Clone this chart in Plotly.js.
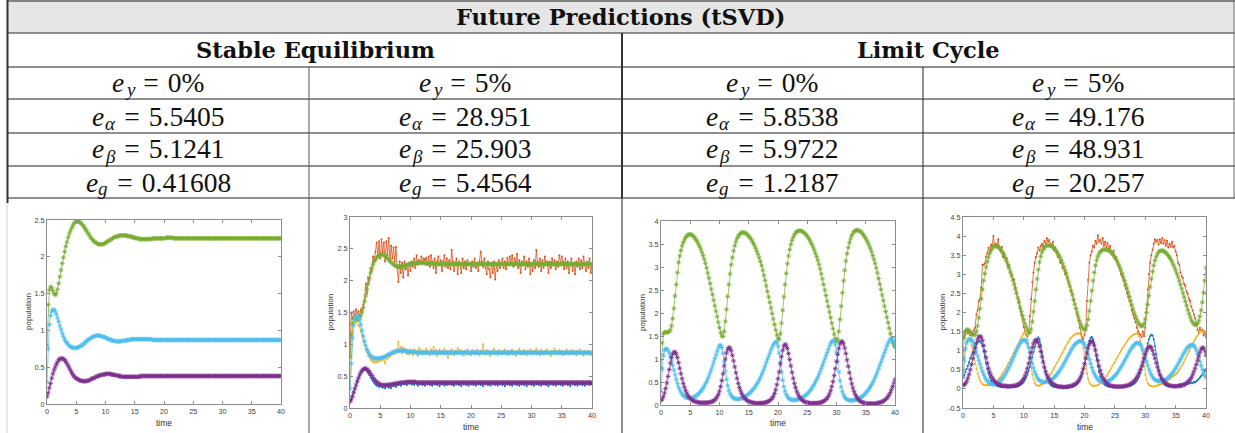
<!DOCTYPE html>
<html>
<head>
<meta charset="utf-8">
<script src="https://cdn.plot.ly/plotly-3.0.1.min.js"></script>
<style>
  html, body { margin: 0; padding: 0; background: #ffffff; }
  #fig { width: 1235px; height: 433px; }
</style>
</head>
<body>
<div id="fig"></div>
<script>
// ---------- shared time grid ----------
const time = [
  0,0.2,0.4,0.6,0.8,1,1.2,1.4,1.6,1.8,
  2,2.2,2.4,2.6,2.8,3,3.2,3.4,3.6,3.8,
  4,4.2,4.4,4.6,4.8,5,5.2,5.4,5.6,5.8,
  6,6.2,6.4,6.6,6.8,7,7.2,7.4,7.6,7.8,
  8,8.2,8.4,8.6,8.8,9,9.2,9.4,9.6,9.8,
  10,10.2,10.4,10.6,10.8,11,11.2,11.4,11.6,11.8,
  12,12.2,12.4,12.6,12.8,13,13.2,13.4,13.6,13.8,
  14,14.2,14.4,14.6,14.8,15,15.2,15.4,15.6,15.8,
  16,16.2,16.4,16.6,16.8,17,17.2,17.4,17.6,17.8,
  18,18.2,18.4,18.6,18.8,19,19.2,19.4,19.6,19.8,
  20,20.2,20.4,20.6,20.8,21,21.2,21.4,21.6,21.8,
  22,22.2,22.4,22.6,22.8,23,23.2,23.4,23.6,23.8,
  24,24.2,24.4,24.6,24.8,25,25.2,25.4,25.6,25.8,
  26,26.2,26.4,26.6,26.8,27,27.2,27.4,27.6,27.8,
  28,28.2,28.4,28.6,28.8,29,29.2,29.4,29.6,29.8,
  30,30.2,30.4,30.6,30.8,31,31.2,31.4,31.6,31.8,
  32,32.2,32.4,32.6,32.8,33,33.2,33.4,33.6,33.8,
  34,34.2,34.4,34.6,34.8,35,35.2,35.4,35.6,35.8,
  36,36.2,36.4,36.6,36.8,37,37.2,37.4,37.6,37.8,
  38,38.2,38.4,38.6,38.8,39,39.2,39.4,39.6,39.8,
  40
];

// ---------- table text ----------
const tableTitle = 'Future Predictions (tSVD)';
const regimes = ['Stable Equilibrium', 'Limit Cycle'];
const noiseLevels = ['0%', '5%', '0%', '5%'];
const errAlpha = ['5.5405', '28.951', '5.8538', '49.176'];
const errBeta = ['5.1241', '25.903', '5.9722', '48.931'];
const errG = ['0.41608', '5.4564', '1.2187', '20.257'];
const errSymbols = ['y', 'α', 'β', 'g'];

// ---------- axis ticks ----------
const timeTicks = [0, 5, 10, 15, 20, 25, 30, 35, 40];
const timeTickText = ['0', '5', '10', '15', '20', '25', '30', '35', '40'];
const popTicks1 = [0, 0.5, 1, 1.5, 2, 2.5];
const popTickText1 = ['0', '0.5', '1', '1.5', '2', '2.5'];
const popTicks2 = [0, 0.5, 1, 1.5, 2, 2.5, 3];
const popTickText2 = ['0', '0.5', '1', '1.5', '2', '2.5', '3'];
const popTicks3 = [0, 0.5, 1, 1.5, 2, 2.5, 3, 3.5, 4];
const popTickText3 = ['0', '0.5', '1', '1.5', '2', '2.5', '3', '3.5', '4'];
const popTicks4 = [-0.5, 0, 0.5, 1, 1.5, 2, 2.5, 3, 3.5, 4, 4.5];
const popTickText4 = ['-0.5', '0', '0.5', '1', '1.5', '2', '2.5', '3', '3.5', '4', '4.5'];

// ---------- stable equilibrium, e_y = 0% (predictions) ----------
const seCleanPredA = [
  0.8,1.35,1.55,1.59,1.58,1.54,1.5,1.48,1.5,1.56,
  1.64,1.73,1.82,1.91,1.99,2.07,2.14,2.2,2.26,2.31,
  2.35,2.39,2.42,2.45,2.47,2.48,2.48,2.48,2.47,2.46,
  2.44,2.42,2.4,2.37,2.35,2.32,2.3,2.27,2.25,2.23,
  2.21,2.2,2.19,2.18,2.17,2.17,2.17,2.17,2.17,2.18,
  2.19,2.2,2.21,2.22,2.23,2.24,2.25,2.26,2.27,2.27,
  2.28,2.28,2.29,2.29,2.29,2.29,2.29,2.29,2.29,2.28,
  2.28,2.28,2.27,2.27,2.26,2.26,2.25,2.25,2.25,2.24,
  2.24,2.24,2.24,2.24,2.24,2.24,2.24,2.24,2.24,2.24,
  2.25,2.25,2.25,2.25,2.25,2.25,2.25,2.25,2.25,2.25,
  2.25,2.25,2.26,2.26,2.26,2.26,2.26,2.26,2.25,2.25,
  2.25,2.25,2.25,2.25,2.25,2.25,2.25,2.25,2.25,2.25,
  2.25,2.25,2.25,2.25,2.25,2.25,2.25,2.25,2.25,2.25,
  2.25,2.25,2.25,2.25,2.25,2.25,2.25,2.25,2.25,2.25,
  2.25,2.25,2.25,2.25,2.25,2.25,2.25,2.25,2.25,2.25,
  2.25,2.25,2.25,2.25,2.25,2.25,2.25,2.25,2.25,2.25,
  2.25,2.25,2.25,2.25,2.25,2.25,2.25,2.25,2.25,2.25,
  2.25,2.25,2.25,2.25,2.25,2.25,2.25,2.25,2.25,2.25,
  2.25,2.25,2.25,2.25,2.25,2.25,2.25,2.25,2.25,2.25,
  2.25,2.25,2.25,2.25,2.25,2.25,2.25,2.25,2.25,2.25,
  2.25
];
const seCleanPredB = [
  0.3,0.75,1.08,1.2,1.26,1.28,1.28,1.26,1.22,1.17,
  1.12,1.06,1.01,0.96,0.92,0.88,0.85,0.83,0.81,0.79,
  0.78,0.77,0.77,0.76,0.76,0.76,0.77,0.77,0.78,0.79,
  0.8,0.81,0.83,0.84,0.86,0.87,0.88,0.89,0.9,0.91,
  0.92,0.92,0.93,0.93,0.93,0.93,0.92,0.92,0.91,0.91,
  0.9,0.89,0.89,0.88,0.87,0.87,0.86,0.86,0.86,0.85,
  0.85,0.85,0.85,0.85,0.86,0.86,0.86,0.86,0.87,0.87,
  0.87,0.87,0.88,0.88,0.88,0.88,0.88,0.88,0.88,0.88,
  0.88,0.88,0.88,0.88,0.88,0.88,0.88,0.88,0.88,0.88,
  0.87,0.87,0.87,0.87,0.87,0.87,0.87,0.87,0.87,0.87,
  0.87,0.87,0.87,0.87,0.87,0.87,0.87,0.87,0.87,0.87,
  0.87,0.87,0.87,0.87,0.87,0.87,0.87,0.87,0.87,0.87,
  0.87,0.87,0.87,0.87,0.87,0.87,0.87,0.87,0.87,0.87,
  0.87,0.87,0.87,0.87,0.87,0.87,0.87,0.87,0.87,0.87,
  0.87,0.87,0.87,0.87,0.87,0.87,0.87,0.87,0.87,0.87,
  0.87,0.87,0.87,0.87,0.87,0.87,0.87,0.87,0.87,0.87,
  0.87,0.87,0.87,0.87,0.87,0.87,0.87,0.87,0.87,0.87,
  0.87,0.87,0.87,0.87,0.87,0.87,0.87,0.87,0.87,0.87,
  0.87,0.87,0.87,0.87,0.87,0.87,0.87,0.87,0.87,0.87,
  0.87,0.87,0.87,0.87,0.87,0.87,0.87,0.87,0.87,0.87,
  0.87
];
const seCleanPredC = [
  0.1,0.15,0.22,0.28,0.35,0.41,0.46,0.5,0.54,0.57,
  0.6,0.61,0.62,0.62,0.61,0.6,0.58,0.55,0.52,0.49,
  0.46,0.43,0.4,0.38,0.36,0.35,0.34,0.33,0.32,0.32,
  0.31,0.31,0.31,0.31,0.31,0.32,0.32,0.33,0.34,0.35,
  0.35,0.36,0.37,0.38,0.38,0.39,0.39,0.4,0.4,0.4,
  0.41,0.41,0.41,0.41,0.41,0.4,0.4,0.4,0.39,0.39,
  0.39,0.38,0.38,0.38,0.37,0.37,0.37,0.37,0.37,0.37,
  0.37,0.37,0.37,0.37,0.37,0.37,0.37,0.37,0.37,0.37,
  0.38,0.38,0.38,0.38,0.38,0.38,0.38,0.38,0.38,0.38,
  0.38,0.38,0.38,0.38,0.38,0.38,0.38,0.38,0.38,0.38,
  0.38,0.38,0.38,0.38,0.38,0.38,0.38,0.38,0.38,0.38,
  0.38,0.38,0.38,0.38,0.38,0.38,0.38,0.38,0.38,0.38,
  0.38,0.38,0.38,0.38,0.38,0.38,0.38,0.38,0.38,0.38,
  0.38,0.38,0.38,0.38,0.38,0.38,0.38,0.38,0.38,0.38,
  0.38,0.38,0.38,0.38,0.38,0.38,0.38,0.38,0.38,0.38,
  0.38,0.38,0.38,0.38,0.38,0.38,0.38,0.38,0.38,0.38,
  0.38,0.38,0.38,0.38,0.38,0.38,0.38,0.38,0.38,0.38,
  0.38,0.38,0.38,0.38,0.38,0.38,0.38,0.38,0.38,0.38,
  0.38,0.38,0.38,0.38,0.38,0.38,0.38,0.38,0.38,0.38,
  0.38,0.38,0.38,0.38,0.38,0.38,0.38,0.38,0.38,0.38,
  0.38
];

// ---------- stable equilibrium, e_y = 5% (noisy data + predictions) ----------
const seNoisyDataA = [
  0.8,1.5,1.4,1.52,1.45,1.55,1.48,1.52,1.45,1.55,
  1.5,1.62,1.7,1.95,1.8,2.05,2.0,2.2,2.15,2.38,
  2.3,2.45,2.6,2.38,2.62,2.35,2.65,2.45,2.6,2.3,
  2.62,2.4,2.67,2.3,2.55,2.35,2.52,2.3,2.53,2.2,
  1.98,2.3,2.12,2.28,2.05,2.3,2.18,2.25,2.08,2.28,
  2.15,2.3,2.22,2.35,2.2,2.4,2.25,2.32,2.28,2.38,
  2.3,2.35,2.32,2.36,2.25,2.38,2.22,2.4,2.3,2.2,
  2.35,2.12,2.3,2.38,2.25,2.32,2.15,2.3,2.4,2.22,
  2.35,2.2,2.32,2.18,2.48,2.3,2.15,2.28,2.35,2.1,
  2.3,2.25,2.12,2.35,2.2,2.3,2.18,2.32,2.25,2.28,
  2.15,2.3,2.22,2.35,2.2,2.28,2.15,2.3,2.46,2.3,
  2.22,2.35,2.2,2.1,2.3,2.18,2.05,2.28,2.12,2.3,
  2.02,2.25,2.15,2.32,2.2,2.28,2.35,2.2,2.3,2.18,
  2.36,2.25,2.38,2.28,2.4,2.22,2.35,2.3,2.42,2.2,
  2.32,2.12,2.3,2.25,2.38,2.18,2.3,2.22,2.35,2.1,
  2.28,2.15,2.32,2.2,2.48,2.3,2.22,2.35,2.15,2.32,
  2.2,2.38,2.25,2.3,2.12,2.3,2.2,2.35,2.25,2.32,
  2.18,2.3,2.22,2.4,2.28,2.38,2.3,2.18,2.35,2.2,
  2.3,2.12,2.25,2.35,2.15,2.28,2.1,2.3,2.22,2.35,
  2.18,2.32,2.2,2.38,2.25,2.15,2.3,2.2,2.35,2.12,
  2.22
];
const seNoisyDataB = [
  0.3,0.85,1.2,1.32,1.36,1.34,1.38,1.3,1.28,1.2,
  1.15,1.05,1.0,0.92,0.88,0.82,0.8,0.76,0.75,0.72,
  0.74,0.71,0.73,0.72,0.76,0.74,0.78,0.75,0.78,0.7,
  0.8,0.77,0.83,0.8,0.86,0.84,0.88,0.85,0.92,0.88,
  1.04,0.9,0.96,0.86,0.95,0.88,0.93,0.85,0.9,0.84,
  0.92,0.88,0.83,0.92,0.86,0.9,0.82,0.94,0.87,0.91,
  0.84,0.9,0.86,0.93,0.85,0.89,0.83,0.92,0.86,0.96,
  0.87,0.91,0.82,0.88,0.92,0.85,0.9,0.86,0.93,0.84,
  0.89,0.79,0.9,0.85,0.92,0.88,0.83,0.9,0.86,0.94,
  0.87,0.91,0.84,0.89,0.82,0.9,0.87,0.92,0.85,0.88,
  0.83,0.91,0.86,0.9,0.84,0.92,0.87,0.83,0.9,0.86,
  1.0,0.88,0.84,0.91,0.85,0.89,0.82,0.9,0.86,0.93,
  0.85,0.88,0.83,0.91,0.87,0.84,0.9,0.86,0.92,0.85,
  0.89,0.83,0.9,0.86,0.92,0.84,0.88,0.82,0.9,0.87,
  0.93,0.85,0.89,0.84,0.91,0.87,0.83,0.9,0.86,0.92,
  0.88,0.84,0.9,0.86,0.93,0.85,0.89,0.83,0.91,0.87,
  0.84,0.9,0.86,0.92,0.85,0.88,0.82,0.9,0.87,0.93,
  0.85,0.89,0.84,0.91,0.86,0.9,0.83,0.88,0.85,0.92,
  0.87,0.84,0.9,0.86,0.91,0.85,0.89,0.83,0.9,0.86,
  0.92,0.85,0.88,0.82,0.9,0.87,0.84,0.9,0.86,0.83,
  0.85
];
const seNoisyDataC = [
  0.1,0.14,0.2,0.25,0.31,0.37,0.42,0.48,0.52,0.56,
  0.59,0.6,0.61,0.6,0.58,0.55,0.52,0.48,0.45,0.42,
  0.39,0.37,0.35,0.36,0.33,0.35,0.34,0.32,0.35,0.31,
  0.34,0.36,0.32,0.35,0.31,0.36,0.34,0.37,0.33,0.37,
  0.36,0.39,0.35,0.38,0.4,0.37,0.39,0.36,0.4,0.38,
  0.41,0.37,0.39,0.36,0.4,0.38,0.35,0.39,0.37,0.4,
  0.36,0.38,0.35,0.39,0.37,0.4,0.36,0.38,0.35,0.39,
  0.37,0.4,0.36,0.38,0.34,0.39,0.37,0.4,0.35,0.38,
  0.36,0.39,0.37,0.41,0.36,0.38,0.35,0.39,0.37,0.4,
  0.36,0.38,0.34,0.39,0.37,0.4,0.36,0.38,0.35,0.39,
  0.37,0.4,0.36,0.38,0.35,0.39,0.37,0.41,0.36,0.38,
  0.34,0.39,0.37,0.4,0.36,0.38,0.35,0.39,0.37,0.4,
  0.36,0.38,0.35,0.39,0.37,0.41,0.36,0.38,0.34,0.39,
  0.37,0.4,0.36,0.38,0.35,0.39,0.37,0.4,0.36,0.38,
  0.35,0.39,0.37,0.41,0.36,0.38,0.34,0.39,0.37,0.4,
  0.36,0.38,0.35,0.39,0.37,0.4,0.36,0.38,0.35,0.39,
  0.37,0.41,0.36,0.38,0.34,0.39,0.37,0.4,0.36,0.38,
  0.35,0.39,0.37,0.4,0.36,0.38,0.35,0.39,0.37,0.41,
  0.36,0.38,0.34,0.39,0.37,0.4,0.36,0.38,0.35,0.39,
  0.37,0.4,0.36,0.38,0.35,0.39,0.37,0.41,0.36,0.38,
  0.37
];
const seNoisyPredA = [
  0.8,1.15,1.33,1.4,1.41,1.4,1.39,1.39,1.41,1.45,
  1.51,1.58,1.67,1.76,1.86,1.95,2.04,2.12,2.19,2.25,
  2.3,2.33,2.36,2.38,2.4,2.41,2.41,2.41,2.4,2.39,
  2.37,2.35,2.33,2.31,2.29,2.27,2.26,2.24,2.23,2.23,
  2.22,2.22,2.22,2.22,2.23,2.23,2.24,2.25,2.25,2.26,
  2.26,2.27,2.27,2.27,2.27,2.28,2.28,2.28,2.28,2.28,
  2.28,2.28,2.27,2.27,2.27,2.27,2.27,2.27,2.27,2.26,
  2.26,2.26,2.26,2.26,2.26,2.26,2.26,2.26,2.26,2.26,
  2.26,2.26,2.26,2.26,2.26,2.26,2.26,2.26,2.26,2.26,
  2.26,2.26,2.26,2.26,2.26,2.26,2.26,2.26,2.26,2.26,
  2.26,2.26,2.26,2.26,2.26,2.26,2.26,2.26,2.26,2.26,
  2.26,2.26,2.26,2.26,2.26,2.26,2.26,2.26,2.26,2.26,
  2.26,2.26,2.26,2.26,2.26,2.26,2.26,2.26,2.26,2.26,
  2.26,2.26,2.26,2.26,2.26,2.26,2.26,2.26,2.26,2.26,
  2.26,2.26,2.26,2.26,2.26,2.26,2.26,2.26,2.26,2.26,
  2.26,2.26,2.26,2.26,2.26,2.26,2.26,2.26,2.26,2.26,
  2.26,2.26,2.26,2.26,2.26,2.26,2.26,2.26,2.26,2.26,
  2.26,2.26,2.26,2.26,2.26,2.26,2.26,2.26,2.26,2.26,
  2.26,2.26,2.26,2.26,2.26,2.26,2.26,2.26,2.26,2.26,
  2.26,2.26,2.26,2.26,2.26,2.26,2.26,2.26,2.26,2.26,
  2.26
];
const seNoisyPredB = [
  0.3,0.7,1.1,1.3,1.4,1.44,1.45,1.43,1.38,1.31,
  1.22,1.13,1.05,0.98,0.92,0.88,0.85,0.82,0.8,0.79,
  0.78,0.78,0.78,0.78,0.78,0.78,0.79,0.79,0.8,0.81,
  0.82,0.83,0.84,0.85,0.86,0.87,0.88,0.88,0.89,0.89,
  0.9,0.9,0.9,0.9,0.9,0.9,0.89,0.89,0.89,0.88,
  0.88,0.88,0.88,0.88,0.88,0.87,0.87,0.87,0.87,0.87,
  0.87,0.87,0.87,0.87,0.87,0.87,0.87,0.87,0.87,0.87,
  0.87,0.87,0.87,0.87,0.87,0.87,0.87,0.87,0.87,0.87,
  0.87,0.87,0.87,0.87,0.87,0.87,0.87,0.87,0.87,0.87,
  0.87,0.87,0.87,0.87,0.87,0.87,0.87,0.87,0.87,0.87,
  0.87,0.87,0.87,0.87,0.87,0.87,0.87,0.87,0.87,0.87,
  0.87,0.87,0.87,0.87,0.87,0.87,0.87,0.87,0.87,0.87,
  0.87,0.87,0.87,0.87,0.87,0.87,0.87,0.87,0.87,0.87,
  0.87,0.87,0.87,0.87,0.87,0.87,0.87,0.87,0.87,0.87,
  0.87,0.87,0.87,0.87,0.87,0.87,0.87,0.87,0.87,0.87,
  0.87,0.87,0.87,0.87,0.87,0.87,0.87,0.87,0.87,0.87,
  0.87,0.87,0.87,0.87,0.87,0.87,0.87,0.87,0.87,0.87,
  0.87,0.87,0.87,0.87,0.87,0.87,0.87,0.87,0.87,0.87,
  0.87,0.87,0.87,0.87,0.87,0.87,0.87,0.87,0.87,0.87,
  0.87,0.87,0.87,0.87,0.87,0.87,0.87,0.87,0.87,0.87,
  0.87
];
const seNoisyPredC = [
  0.1,0.13,0.18,0.24,0.3,0.36,0.42,0.47,0.52,0.56,
  0.59,0.61,0.62,0.62,0.61,0.59,0.57,0.54,0.51,0.48,
  0.45,0.43,0.41,0.39,0.38,0.37,0.36,0.36,0.36,0.36,
  0.36,0.36,0.36,0.37,0.37,0.37,0.38,0.38,0.38,0.39,
  0.39,0.39,0.4,0.4,0.4,0.4,0.4,0.41,0.41,0.41,
  0.41,0.41,0.41,0.41,0.41,0.4,0.4,0.4,0.4,0.4,
  0.4,0.4,0.4,0.4,0.4,0.4,0.4,0.4,0.4,0.4,
  0.4,0.4,0.4,0.4,0.4,0.4,0.4,0.4,0.4,0.4,
  0.4,0.4,0.4,0.4,0.4,0.4,0.4,0.4,0.4,0.4,
  0.4,0.4,0.4,0.4,0.4,0.4,0.4,0.4,0.4,0.4,
  0.4,0.4,0.4,0.4,0.4,0.4,0.4,0.4,0.4,0.4,
  0.4,0.4,0.4,0.4,0.4,0.4,0.4,0.4,0.4,0.4,
  0.4,0.4,0.4,0.4,0.4,0.4,0.4,0.4,0.4,0.4,
  0.4,0.4,0.4,0.4,0.4,0.4,0.4,0.4,0.4,0.4,
  0.4,0.4,0.4,0.4,0.4,0.4,0.4,0.4,0.4,0.4,
  0.4,0.4,0.4,0.4,0.4,0.4,0.4,0.4,0.4,0.4,
  0.4,0.4,0.4,0.4,0.4,0.4,0.4,0.4,0.4,0.4,
  0.4,0.4,0.4,0.4,0.4,0.4,0.4,0.4,0.4,0.4,
  0.4,0.4,0.4,0.4,0.4,0.4,0.4,0.4,0.4,0.4,
  0.4,0.4,0.4,0.4,0.4,0.4,0.4,0.4,0.4,0.4,
  0.4
];

// ---------- limit cycle, e_y = 0% (predictions) ----------
const lcCleanPredA = [
  0.8,1.35,1.55,1.58,1.58,1.58,1.58,1.6,1.63,1.72,
  1.88,2.1,2.37,2.62,2.88,3.1,3.24,3.36,3.46,3.53,
  3.59,3.64,3.67,3.7,3.71,3.71,3.7,3.68,3.66,3.63,
  3.59,3.55,3.5,3.45,3.39,3.32,3.25,3.17,3.08,2.98,
  2.87,2.76,2.64,2.52,2.4,2.28,2.16,2.04,1.92,1.8,
  1.68,1.57,1.5,1.49,1.6,1.82,2.08,2.36,2.62,2.85,
  3.05,3.21,3.35,3.46,3.55,3.62,3.67,3.71,3.73,3.75,
  3.75,3.75,3.74,3.72,3.7,3.67,3.64,3.6,3.56,3.51,
  3.46,3.4,3.34,3.27,3.2,3.12,3.03,2.93,2.82,2.71,
  2.59,2.47,2.35,2.23,2.11,1.99,1.87,1.75,1.63,1.52,
  1.44,1.43,1.55,1.78,2.06,2.35,2.62,2.86,3.07,3.24,
  3.38,3.49,3.58,3.65,3.7,3.74,3.77,3.78,3.79,3.79,
  3.78,3.77,3.75,3.73,3.7,3.67,3.63,3.59,3.54,3.49,
  3.43,3.37,3.3,3.23,3.15,3.06,2.96,2.85,2.74,2.62,
  2.5,2.38,2.26,2.14,2.02,1.9,1.78,1.66,1.54,1.44,
  1.38,1.42,1.6,1.86,2.15,2.44,2.7,2.93,3.13,3.29,
  3.42,3.53,3.61,3.68,3.73,3.77,3.79,3.8,3.8,3.79,
  3.78,3.76,3.73,3.7,3.66,3.62,3.57,3.52,3.46,3.4,
  3.33,3.25,3.17,3.08,2.98,2.87,2.75,2.63,2.51,2.39,
  2.27,2.15,2.03,1.91,1.79,1.67,1.55,1.44,1.36,1.3,
  1.26
];
const lcCleanPredB = [
  0.3,0.78,1.08,1.19,1.22,1.22,1.19,1.13,1.05,0.96,
  0.86,0.76,0.66,0.56,0.47,0.39,0.33,0.28,0.24,0.21,
  0.19,0.17,0.16,0.15,0.15,0.15,0.15,0.16,0.17,0.18,
  0.2,0.22,0.24,0.27,0.3,0.33,0.37,0.41,0.46,0.51,
  0.57,0.63,0.7,0.77,0.85,0.93,1.01,1.09,1.17,1.24,
  1.29,1.3,1.25,1.12,0.94,0.74,0.56,0.42,0.32,0.25,
  0.2,0.17,0.15,0.14,0.13,0.13,0.13,0.13,0.14,0.15,
  0.16,0.17,0.18,0.2,0.22,0.24,0.26,0.29,0.32,0.35,
  0.38,0.42,0.46,0.5,0.55,0.6,0.66,0.72,0.78,0.85,
  0.92,0.99,1.06,1.13,1.2,1.26,1.31,1.35,1.37,1.36,
  1.28,1.13,0.93,0.72,0.54,0.4,0.3,0.23,0.18,0.15,
  0.13,0.12,0.11,0.11,0.11,0.11,0.12,0.12,0.13,0.14,
  0.15,0.16,0.18,0.2,0.22,0.24,0.27,0.3,0.33,0.37,
  0.41,0.45,0.5,0.55,0.6,0.66,0.72,0.79,0.86,0.93,
  1.0,1.07,1.14,1.21,1.28,1.34,1.38,1.4,1.39,1.31,
  1.15,0.94,0.72,0.53,0.39,0.29,0.22,0.17,0.14,0.12,
  0.11,0.1,0.1,0.1,0.1,0.11,0.11,0.12,0.13,0.14,
  0.15,0.17,0.19,0.21,0.23,0.26,0.29,0.32,0.36,0.4,
  0.44,0.49,0.54,0.6,0.66,0.72,0.79,0.86,0.93,1.0,
  1.07,1.14,1.21,1.28,1.34,1.39,1.43,1.45,1.44,1.38,
  1.28
];
const lcCleanPredC = [
  0.1,0.13,0.18,0.26,0.36,0.48,0.62,0.77,0.91,1.03,
  1.11,1.15,1.15,1.11,1.03,0.92,0.8,0.68,0.57,0.47,
  0.39,0.32,0.26,0.21,0.17,0.14,0.12,0.1,0.09,0.08,
  0.07,0.06,0.06,0.05,0.05,0.05,0.05,0.05,0.05,0.05,
  0.05,0.06,0.06,0.07,0.08,0.09,0.11,0.14,0.18,0.23,
  0.3,0.4,0.53,0.68,0.85,1.0,1.13,1.21,1.25,1.24,
  1.18,1.08,0.96,0.83,0.7,0.58,0.47,0.38,0.31,0.25,
  0.2,0.16,0.13,0.11,0.09,0.08,0.07,0.06,0.05,0.05,
  0.04,0.04,0.04,0.04,0.04,0.04,0.04,0.04,0.05,0.05,
  0.06,0.07,0.08,0.1,0.12,0.15,0.19,0.25,0.33,0.44,
  0.57,0.72,0.89,1.05,1.19,1.28,1.32,1.3,1.23,1.12,
  0.99,0.85,0.71,0.58,0.47,0.38,0.3,0.24,0.19,0.15,
  0.12,0.1,0.08,0.07,0.06,0.05,0.05,0.04,0.04,0.04,
  0.04,0.04,0.04,0.04,0.04,0.05,0.05,0.06,0.07,0.08,
  0.1,0.12,0.15,0.19,0.24,0.31,0.4,0.51,0.64,0.79,
  0.95,1.1,1.23,1.33,1.38,1.38,1.33,1.24,1.12,0.98,
  0.84,0.7,0.57,0.46,0.37,0.29,0.23,0.18,0.14,0.11,
  0.09,0.07,0.06,0.05,0.04,0.04,0.03,0.03,0.03,0.03,
  0.03,0.03,0.03,0.03,0.04,0.04,0.05,0.05,0.06,0.07,
  0.09,0.1,0.12,0.15,0.18,0.22,0.27,0.33,0.4,0.48,
  0.56
];

// ---------- limit cycle, e_y = 5% (noisy data + predictions) ----------
const lcNoisyDataA = [
  1.3,1.5,1.42,1.55,1.45,1.52,1.4,1.5,1.42,1.55,
  1.6,1.95,2.05,2.3,2.35,2.65,3.25,3.25,3.28,3.45,
  3.55,3.7,3.6,3.78,3.72,4.0,3.75,3.8,3.7,3.92,
  3.65,3.6,3.72,3.45,3.55,3.38,3.42,3.2,3.25,3.05,
  3.0,2.85,2.88,2.65,2.55,2.4,2.32,2.1,1.95,1.85,
  1.62,1.5,1.42,1.38,1.45,1.9,2.35,2.8,3.05,3.3,
  3.45,3.55,3.7,3.62,3.75,3.8,3.72,3.88,3.82,3.95,
  3.85,3.9,3.8,3.75,3.85,3.62,3.7,3.55,3.45,3.5,
  3.3,3.35,3.15,3.2,3.0,3.05,2.85,2.75,2.7,2.55,
  2.5,2.3,2.22,2.1,1.95,1.8,1.6,1.45,1.35,1.3,
  1.42,1.55,2.3,2.85,3.3,3.5,3.6,3.75,3.7,3.88,
  3.8,4.02,3.85,3.9,3.8,3.95,3.75,3.85,3.7,3.82,
  3.65,3.75,3.6,3.55,3.62,3.4,3.45,3.3,3.22,3.15,
  3.0,2.95,2.85,2.7,2.62,2.5,2.4,2.3,2.2,2.05,
  1.95,1.85,1.75,1.6,1.5,1.45,1.42,1.35,1.5,1.38,
  1.6,2.1,2.6,3.0,3.3,3.5,3.65,3.8,3.92,3.85,
  3.9,3.78,3.92,3.82,3.95,3.8,3.9,3.75,3.88,3.7,
  3.8,3.72,3.85,3.7,3.75,3.6,3.5,3.3,3.25,3.05,
  2.95,2.9,2.75,2.7,2.55,2.5,2.35,2.3,2.15,2.05,
  1.95,1.85,1.7,1.55,1.45,1.6,1.5,1.55,1.4,1.45,
  1.35
];
const lcNoisyDataB = [
  0.3,0.85,1.1,1.25,1.28,1.3,1.25,1.12,0.98,0.82,
  0.66,0.52,0.4,0.3,0.22,0.17,0.13,0.11,0.1,0.09,
  0.1,0.09,0.11,0.1,0.12,0.14,0.15,0.18,0.2,0.24,
  0.28,0.32,0.37,0.42,0.47,0.53,0.58,0.65,0.7,0.77,
  0.82,0.9,0.95,1.02,1.08,1.15,1.2,1.28,1.35,1.42,
  1.47,1.5,1.45,1.3,1.08,0.82,0.58,0.38,0.25,0.16,
  0.11,0.09,0.08,0.09,0.1,0.12,0.14,0.17,0.2,0.24,
  0.28,0.33,0.38,0.43,0.49,0.55,0.6,0.67,0.72,0.79,
  0.84,0.91,0.96,1.03,1.08,1.14,1.2,1.25,1.3,1.34,
  1.38,1.4,1.42,1.45,1.44,1.46,1.45,1.4,1.28,1.08,
  0.85,0.6,0.4,0.26,0.17,0.12,0.09,0.08,0.07,0.08,
  0.09,0.1,0.12,0.14,0.17,0.2,0.24,0.28,0.33,0.38,
  0.43,0.48,0.54,0.6,0.65,0.71,0.77,0.83,0.88,0.94,
  0.99,1.05,1.1,1.15,1.2,1.25,1.29,1.33,1.36,1.39,
  1.41,1.43,1.44,1.45,1.43,1.38,1.26,1.06,0.82,0.58,
  0.38,0.24,0.15,0.1,0.08,0.07,0.06,0.06,0.07,0.08,
  0.09,0.1,0.11,0.12,0.13,0.15,0.17,0.19,0.21,0.23,
  0.26,0.29,0.31,0.33,0.36,0.38,0.41,0.45,0.5,0.55,
  0.6,0.66,0.72,0.78,0.85,0.92,0.98,1.05,1.12,1.18,
  1.24,1.3,1.35,1.4,1.45,1.5,1.52,1.5,1.53,1.5,
  1.48
];
const lcNoisyDataC = [
  0.3,0.35,0.45,0.52,0.6,0.7,0.8,0.88,0.95,1.05,
  1.12,1.18,1.22,1.25,1.24,1.2,1.12,1.0,0.85,0.68,
  0.52,0.4,0.3,0.22,0.17,0.13,0.11,0.09,0.08,0.07,
  0.06,0.05,0.06,0.04,0.05,0.04,0.05,0.03,0.05,0.04,
  0.05,0.04,0.06,0.05,0.07,0.06,0.08,0.1,0.12,0.15,
  0.19,0.24,0.3,0.38,0.47,0.58,0.7,0.83,0.97,1.1,
  1.22,1.31,1.35,1.3,1.15,0.95,0.74,0.55,0.4,0.29,
  0.21,0.15,0.11,0.08,0.07,0.05,0.06,0.04,0.05,0.03,
  0.05,0.04,0.06,0.03,0.05,0.04,0.02,0.05,0.04,0.06,
  0.05,0.07,0.08,0.1,0.13,0.17,0.22,0.29,0.38,0.5,
  0.64,0.8,0.97,1.13,1.26,1.34,1.36,1.3,1.17,0.99,
  0.79,0.6,0.44,0.32,0.23,0.17,0.13,0.1,0.08,0.07,
  0.06,0.05,0.07,0.05,0.06,0.04,0.06,0.05,0.07,0.05,
  0.06,0.04,0.06,0.05,0.07,0.06,0.08,0.07,0.09,0.1,
  0.12,0.14,0.17,0.21,0.26,0.32,0.4,0.5,0.62,0.76,
  0.9,1.05,1.19,1.3,1.38,1.42,1.4,1.3,1.12,0.9,
  0.68,0.5,0.36,0.26,0.19,0.14,0.11,0.09,0.08,0.07,
  0.08,0.06,0.07,0.05,0.07,0.06,0.08,0.1,0.12,0.1,
  0.13,0.11,0.14,0.12,0.15,0.13,0.16,0.14,0.17,0.15,
  0.18,0.17,0.2,0.22,0.26,0.3,0.34,0.38,0.42,0.47,
  0.52
];
const lcNoisyPredA = [
  0.8,1.35,1.5,1.55,1.55,1.52,1.48,1.45,1.42,1.41,
  1.43,1.5,1.65,1.86,2.1,2.36,2.6,2.83,3.02,3.19,
  3.33,3.45,3.55,3.62,3.68,3.72,3.74,3.75,3.74,3.72,
  3.69,3.65,3.6,3.54,3.48,3.41,3.33,3.25,3.16,3.06,
  2.96,2.85,2.74,2.62,2.5,2.38,2.26,2.14,2.03,1.92,
  1.81,1.71,1.62,1.54,1.49,1.47,1.56,1.76,2.02,2.3,
  2.6,2.88,3.12,3.32,3.47,3.58,3.65,3.7,3.73,3.75,
  3.76,3.76,3.75,3.73,3.71,3.68,3.64,3.6,3.55,3.49,
  3.43,3.36,3.28,3.2,3.11,3.01,2.91,2.8,2.69,2.58,
  2.46,2.34,2.22,2.1,1.99,1.88,1.78,1.69,1.62,1.57,
  1.55,1.57,1.66,1.82,2.04,2.3,2.57,2.83,3.05,3.23,
  3.37,3.47,3.54,3.59,3.62,3.64,3.65,3.65,3.65,3.64,
  3.62,3.6,3.57,3.53,3.49,3.44,3.39,3.33,3.26,3.19,
  3.11,3.02,2.93,2.84,2.74,2.64,2.53,2.42,2.31,2.2,
  2.09,1.99,1.9,1.82,1.75,1.7,1.66,1.64,1.65,1.71,
  1.83,2.0,2.21,2.44,2.67,2.88,3.07,3.23,3.36,3.46,
  3.53,3.58,3.61,3.62,3.62,3.61,3.59,3.56,3.53,3.49,
  3.44,3.39,3.33,3.26,3.19,3.11,3.02,2.93,2.83,2.73,
  2.62,2.51,2.4,2.29,2.18,2.07,1.97,1.88,1.8,1.74,
  1.7,1.68,1.68,1.71,1.78,1.9,2.06,2.27,2.52,2.83,
  3.17
];
const lcNoisyPredB = [
  0.3,0.75,1.05,1.2,1.27,1.3,1.31,1.29,1.24,1.16,
  1.07,0.97,0.86,0.75,0.65,0.55,0.46,0.38,0.31,0.25,
  0.21,0.17,0.15,0.13,0.12,0.12,0.12,0.13,0.14,0.16,
  0.18,0.21,0.25,0.29,0.34,0.39,0.45,0.51,0.57,0.64,
  0.71,0.78,0.85,0.93,1.0,1.07,1.13,1.19,1.24,1.27,
  1.28,1.28,1.25,1.18,1.08,0.95,0.81,0.67,0.55,0.45,
  0.37,0.3,0.25,0.22,0.2,0.19,0.18,0.18,0.18,0.19,
  0.2,0.21,0.23,0.25,0.27,0.3,0.33,0.37,0.41,0.45,
  0.5,0.55,0.6,0.66,0.72,0.78,0.84,0.9,0.96,1.02,
  1.07,1.12,1.16,1.19,1.22,1.24,1.25,1.25,1.24,1.21,
  1.16,1.08,0.99,0.88,0.77,0.66,0.56,0.47,0.4,0.34,
  0.29,0.25,0.22,0.2,0.19,0.18,0.18,0.18,0.19,0.2,
  0.21,0.23,0.25,0.28,0.31,0.34,0.38,0.42,0.47,0.52,
  0.57,0.62,0.68,0.74,0.8,0.86,0.92,0.98,1.03,1.08,
  1.12,1.16,1.19,1.2,1.2,1.19,1.16,1.1,1.02,0.93,
  0.83,0.72,0.62,0.52,0.44,0.37,0.31,0.27,0.24,0.22,
  0.21,0.2,0.2,0.2,0.21,0.22,0.23,0.25,0.27,0.3,
  0.33,0.36,0.4,0.44,0.49,0.54,0.59,0.65,0.71,0.77,
  0.83,0.89,0.95,1.0,1.05,1.09,1.12,1.14,1.15,1.15,
  1.13,1.09,1.02,0.93,0.83,0.72,0.61,0.51,0.42,0.35,
  0.3
];
const lcNoisyPredC = [
  0.1,0.11,0.14,0.2,0.28,0.38,0.5,0.64,0.79,0.94,
  1.08,1.2,1.3,1.36,1.38,1.35,1.27,1.14,0.98,0.82,
  0.67,0.54,0.44,0.36,0.29,0.24,0.2,0.17,0.14,0.12,
  0.11,0.1,0.09,0.08,0.08,0.08,0.07,0.07,0.07,0.07,
  0.07,0.08,0.08,0.09,0.1,0.11,0.13,0.15,0.18,0.22,
  0.27,0.34,0.43,0.54,0.67,0.81,0.95,1.08,1.18,1.25,
  1.28,1.27,1.21,1.11,0.98,0.84,0.7,0.57,0.46,0.37,
  0.3,0.24,0.19,0.16,0.13,0.11,0.09,0.08,0.07,0.06,
  0.06,0.05,0.05,0.05,0.05,0.05,0.06,0.06,0.07,0.08,
  0.09,0.1,0.12,0.14,0.17,0.21,0.26,0.33,0.42,0.53,
  0.66,0.8,0.94,1.07,1.17,1.23,1.25,1.22,1.14,1.02,
  0.88,0.74,0.6,0.48,0.38,0.3,0.24,0.19,0.15,0.13,
  0.11,0.09,0.08,0.07,0.07,0.06,0.06,0.06,0.06,0.06,
  0.06,0.06,0.07,0.07,0.08,0.09,0.1,0.11,0.13,0.15,
  0.18,0.21,0.25,0.3,0.36,0.43,0.51,0.6,0.7,0.8,
  0.9,0.99,1.06,1.1,1.11,1.08,1.01,0.91,0.8,0.68,
  0.57,0.47,0.38,0.31,0.25,0.21,0.17,0.14,0.12,0.1,
  0.09,0.08,0.08,0.07,0.07,0.07,0.07,0.07,0.08,0.08,
  0.09,0.1,0.11,0.13,0.15,0.18,0.21,0.25,0.3,0.37,
  0.45,0.54,0.64,0.75,0.86,0.96,1.04,1.08,1.07,1.0,
  0.88
];

// ---------- colours ----------
const colors = {
  dataA: '#D95319', dataB: '#EDB120', dataC: '#0072BD',
  predA: '#77AC30', predB: '#4DBEEE', predC: '#7E2F8E'
};

// ---------- page geometry (pixels) ----------
const W = 1235, H = 433;
const fx = v => v / W;
const fy = v => 1 - v / H;

// plot boxes: [left, right, top, bottom]
const boxes = [
  [47, 281, 220, 404],
  [350, 592, 217, 408],
  [661, 895, 221, 405],
  [963, 1206, 217, 408]
];
const yRanges = [[0, 2.5], [0, 3], [0, 4], [-0.5, 4.5]];
const yTickSets = [
  [popTicks1, popTickText1], [popTicks2, popTickText2],
  [popTicks3, popTickText3], [popTicks4, popTickText4]
];

// ---------- traces ----------
function ax(k) { return k === 1 ? '' : String(k); }
function dataTrace(y, color, k) {
  return {
    x: time, y: y, xaxis: 'x' + ax(k), yaxis: 'y' + ax(k),
    type: 'scatter', mode: 'lines+markers', hoverinfo: 'skip',
    line: { color: color, width: 0.8 },
    marker: { symbol: 'circle', size: 2, color: color }
  };
}
function predTrace(y, color, k) {
  return {
    x: time, y: y, xaxis: 'x' + ax(k), yaxis: 'y' + ax(k),
    type: 'scatter', mode: 'lines+markers', hoverinfo: 'skip',
    line: { color: color, width: 0.7 },
    marker: { symbol: 'asterisk-open', size: 4, color: color, line: { color: color, width: 0.8 } }
  };
}

const traces = [
  predTrace(seCleanPredA, colors.predA, 1),
  predTrace(seCleanPredB, colors.predB, 1),
  predTrace(seCleanPredC, colors.predC, 1),

  dataTrace(seNoisyDataA, colors.dataA, 2),
  dataTrace(seNoisyDataB, colors.dataB, 2),
  dataTrace(seNoisyDataC, colors.dataC, 2),
  predTrace(seNoisyPredA, colors.predA, 2),
  predTrace(seNoisyPredB, colors.predB, 2),
  predTrace(seNoisyPredC, colors.predC, 2),

  predTrace(lcCleanPredA, colors.predA, 3),
  predTrace(lcCleanPredB, colors.predB, 3),
  predTrace(lcCleanPredC, colors.predC, 3),

  dataTrace(lcNoisyDataA, colors.dataA, 4),
  dataTrace(lcNoisyDataB, colors.dataB, 4),
  dataTrace(lcNoisyDataC, colors.dataC, 4),
  predTrace(lcNoisyPredA, colors.predA, 4),
  predTrace(lcNoisyPredB, colors.predB, 4),
  predTrace(lcNoisyPredC, colors.predC, 4)
];

// ---------- layout ----------
const axisLine = '#8c8c8c';
const sansFamily = 'Liberation Sans, Arial, sans-serif';
const tickFont = { family: sansFamily, size: 7.2, color: '#3c3c3c' };

const layout = {
  width: W, height: H,
  margin: { l: 0, r: 0, t: 0, b: 0 },
  paper_bgcolor: '#ffffff', plot_bgcolor: '#ffffff',
  showlegend: false,
  shapes: [], annotations: []
};

boxes.forEach((b, i) => {
  const k = i + 1;
  layout['xaxis' + ax(k)] = {
    domain: [fx(b[0]), fx(b[1])], range: [0, 40], anchor: 'y' + ax(k),
    tickmode: 'array', tickvals: timeTicks, ticktext: timeTickText,
    ticks: 'inside', ticklen: 3, tickwidth: 1, tickcolor: axisLine,
    showline: true, linecolor: axisLine, linewidth: 1, mirror: 'ticks',
    showgrid: false, zeroline: false, tickfont: tickFont, fixedrange: true
  };
  layout['yaxis' + ax(k)] = {
    domain: [fy(b[3]), fy(b[2])], range: yRanges[i], anchor: 'x' + ax(k),
    tickmode: 'array', tickvals: yTickSets[i][0], ticktext: yTickSets[i][1],
    ticks: 'inside', ticklen: 3, tickwidth: 1, tickcolor: axisLine,
    showline: true, linecolor: axisLine, linewidth: 1, mirror: 'ticks',
    showgrid: false, zeroline: false, tickfont: tickFont, fixedrange: true
  };
});

// axis titles
const yTitleX = [28, 330, 642, 942];
const xTitleY = [423, 427, 423, 427];
boxes.forEach((b, i) => {
  layout.annotations.push({
    xref: 'paper', yref: 'paper', x: fx(yTitleX[i]), y: fy((b[2] + b[3]) / 2),
    text: 'population', textangle: -90, showarrow: false,
    xanchor: 'center', yanchor: 'middle',
    font: { family: sansFamily, size: 8, color: '#333333' }
  });
  layout.annotations.push({
    xref: 'paper', yref: 'paper', x: fx((b[0] + b[1]) / 2), y: fy(xTitleY[i]),
    text: 'time', showarrow: false, xanchor: 'center', yanchor: 'middle',
    font: { family: sansFamily, size: 8.5, color: '#333333' }
  });
});

// ---------- table frame ----------
function hline(y, x0, x1, color, width) {
  return { type: 'line', xref: 'paper', yref: 'paper', x0: fx(x0), x1: fx(x1), y0: fy(y), y1: fy(y),
           line: { color: color, width: width } };
}
function vline(x, y0, y1, color, width) {
  return { type: 'line', xref: 'paper', yref: 'paper', x0: fx(x), x1: fx(x), y0: fy(y0), y1: fy(y1),
           line: { color: color, width: width } };
}
layout.shapes.push({
  type: 'rect', xref: 'paper', yref: 'paper', layer: 'below',
  x0: fx(8), x1: fx(1234), y0: fy(33), y1: fy(1),
  fillcolor: '#e6e6e6', line: { width: 0 }
});
layout.shapes.push(hline(1, 7, 1235, '#5a5a5a', 1.5));
[33, 67, 99, 133, 166, 198].forEach(y => layout.shapes.push(hline(y, 7, 1235, '#6a6a6a', 1.5)));
layout.shapes.push(vline(7.5, 0, 203, '#333333', 2));
layout.shapes.push(vline(7, 203, 433, '#cccccc', 1));
layout.shapes.push(vline(1234, 0, 198, '#6a6a6a', 1));
layout.shapes.push(vline(622, 33, 198, '#333333', 2));
layout.shapes.push(vline(622, 198, 433, '#444444', 1.2));
layout.shapes.push(vline(309, 67, 433, '#555555', 1));
layout.shapes.push(vline(923, 67, 433, '#222222', 1));

// ---------- table text ----------
const serifHead = 'DejaVu Serif, serif';
const serifMath = 'Liberation Serif';
const headFont = { family: serifHead, size: 22.5, color: '#111111', weight: 'bold' };

function textAt(x, y, text, font, anchor) {
  layout.annotations.push({
    xref: 'paper', yref: 'paper', x: fx(x), y: fy(y), text: text, showarrow: false,
    xanchor: anchor || 'center', yanchor: 'middle', font: font,
    borderpad: 0, borderwidth: 0
  });
}
textAt(621, 17, tableTitle, headFont);
textAt(315, 50, regimes[0], headFont);
textAt(928, 50, regimes[1], headFont);

// math cells: italic e, a smaller italic subscript, then "= value"
const mainSize = 27.5, subSize = 19;
const measureCtx = document.createElement('canvas').getContext('2d');
function textWidth(str, size, italic) {
  measureCtx.font = (italic ? 'italic ' : '') + size + 'px "' + serifMath + '", serif';
  return measureCtx.measureText(str).width;
}
function mathCell(cx, cy, sym, value) {
  const rest = '\u2004=\u2004' + value;
  const wE = textWidth('e', mainSize, true);
  const wS = textWidth(sym, subSize, true);
  const wR = textWidth(rest, mainSize, false);
  const x0 = cx - (wE + wS + wR) / 2;
  const fam = serifMath + ', serif';
  textAt(x0, cy, 'e', { family: fam, size: mainSize, color: '#111111', style: 'italic' }, 'left');
  textAt(x0 + wE + 0.5, cy + 7, sym, { family: fam, size: subSize, color: '#111111', style: 'italic' }, 'left');
  textAt(x0 + wE + wS + 1, cy, rest, { family: fam, size: mainSize, color: '#111111' }, 'left');
}
const colCenters = [158, 465, 772, 1078];
const rowCenters = [83, 116, 149, 182];
colCenters.forEach((cx, i) => {
  const values = [noiseLevels[i], errAlpha[i], errBeta[i], errG[i]];
  rowCenters.forEach((cy, r) => mathCell(cx, cy, errSymbols[r], values[r]));
});

Plotly.newPlot('fig', traces, layout, { displayModeBar: false, staticPlot: true });
</script>
</body>
</html>
